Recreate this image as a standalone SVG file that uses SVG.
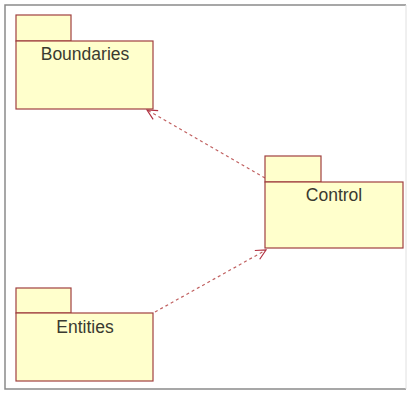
<svg xmlns="http://www.w3.org/2000/svg" width="409" height="394" viewBox="0 0 409 394">
<style>
.tab,.body{fill:#ffffcc;stroke:#a04040;stroke-width:1.2}
.lbl{font-family:"Liberation Sans",Arial,sans-serif;font-size:17.5px;fill:#3a3a30;text-anchor:middle}
.dep{fill:none;stroke:#c06060;stroke-width:1.2;stroke-dasharray:3,3}
</style>
<defs>
<marker id="open" viewBox="0 0 12 12" refX="11" refY="6" markerWidth="12" markerHeight="12" markerUnits="userSpaceOnUse" orient="auto">
<path d="M1,1 L11,6 L1,11" fill="none" stroke="#b03040" stroke-width="1.2"/>
</marker>
</defs>
<rect x="0" y="0" width="409" height="394" fill="#fff"/>
<path d="M406,5 L5,5 L5,389 L406,389" fill="none" stroke="#8a8a8a" stroke-width="1.5"/>
<line x1="406" y1="5" x2="406" y2="389" stroke="#e0e0e0" stroke-width="1"/>
<g id="connectors">
<line class="dep" x1="265" y1="178" x2="147" y2="110" marker-end="url(#open)"/>
<line class="dep" x1="155" y1="312" x2="266" y2="250" marker-end="url(#open)"/>
</g>
<g id="boundaries">
<rect class="tab" x="16" y="15" width="55" height="26"/>
<rect class="body" x="16" y="41" width="137" height="68"/>
<text class="lbl" x="85" y="60">Boundaries</text>
</g>
<g id="control">
<rect class="tab" x="265" y="156" width="56" height="26"/>
<rect class="body" x="265" y="182" width="138" height="66"/>
<text class="lbl" x="334" y="201">Control</text>
</g>
<g id="entities">
<rect class="tab" x="16" y="288" width="55" height="25"/>
<rect class="body" x="16" y="313" width="137" height="68"/>
<text class="lbl" x="85" y="333">Entities</text>
</g>
</svg>
